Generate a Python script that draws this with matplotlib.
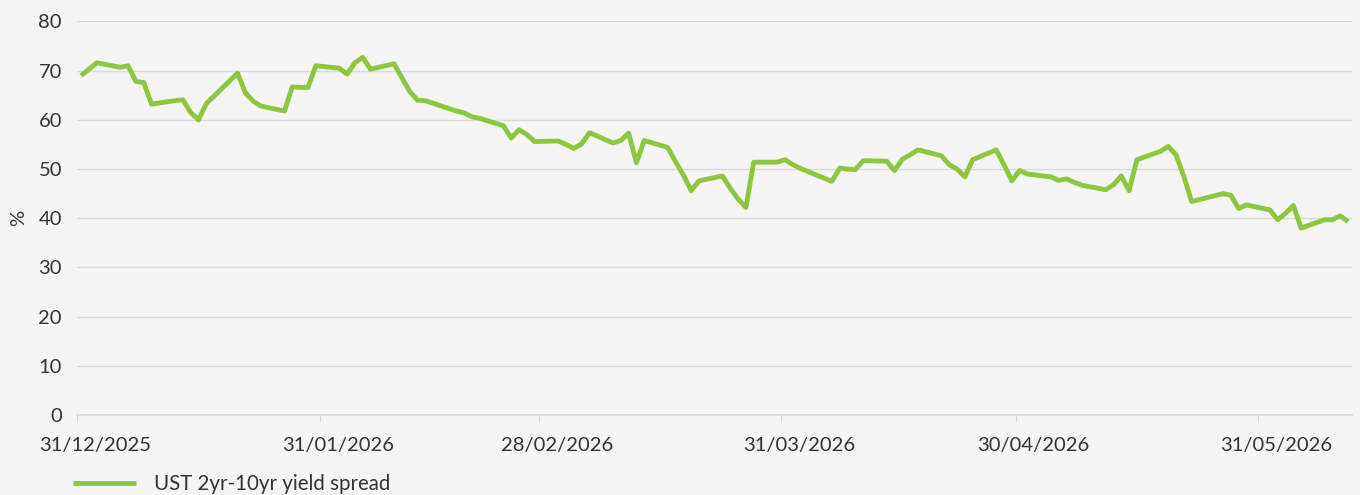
import matplotlib
matplotlib.use('Agg')
import matplotlib.pyplot as plt
import matplotlib.dates as mdates
import matplotlib.transforms as mtransforms
import pandas as pd

# UST 2yr-10yr spread (business days)
dates = [
    '2025-12-31', '2026-01-02', '2026-01-05', '2026-01-06', '2026-01-07', '2026-01-08',
    '2026-01-09', '2026-01-12', '2026-01-13', '2026-01-14', '2026-01-15', '2026-01-16',
    '2026-01-20', '2026-01-21', '2026-01-22', '2026-01-23', '2026-01-26', '2026-01-27',
    '2026-01-28', '2026-01-29', '2026-01-30', '2026-02-02', '2026-02-03', '2026-02-04',
    '2026-02-05', '2026-02-06', '2026-02-09', '2026-02-10', '2026-02-11', '2026-02-12',
    '2026-02-13', '2026-02-17', '2026-02-18', '2026-02-19', '2026-02-20', '2026-02-23',
    '2026-02-24', '2026-02-25', '2026-02-26', '2026-02-27', '2026-03-02', '2026-03-03',
    '2026-03-04', '2026-03-05', '2026-03-06', '2026-03-09', '2026-03-10', '2026-03-11',
    '2026-03-12', '2026-03-13', '2026-03-16', '2026-03-17', '2026-03-18', '2026-03-19',
    '2026-03-20', '2026-03-23', '2026-03-24', '2026-03-25', '2026-03-26', '2026-03-27',
    '2026-03-30', '2026-03-31', '2026-04-01', '2026-04-02', '2026-04-06', '2026-04-07',
    '2026-04-08', '2026-04-09', '2026-04-10', '2026-04-13', '2026-04-14', '2026-04-15',
    '2026-04-16', '2026-04-17', '2026-04-20', '2026-04-21', '2026-04-22', '2026-04-23',
    '2026-04-24', '2026-04-27', '2026-04-28', '2026-04-29', '2026-04-30', '2026-05-01',
    '2026-05-04', '2026-05-05', '2026-05-06', '2026-05-07', '2026-05-08', '2026-05-11',
    '2026-05-12', '2026-05-13', '2026-05-14', '2026-05-15', '2026-05-18', '2026-05-19',
    '2026-05-20', '2026-05-21', '2026-05-22', '2026-05-26', '2026-05-27', '2026-05-28',
    '2026-05-29', '2026-06-01', '2026-06-02', '2026-06-03', '2026-06-04', '2026-06-05',
    '2026-06-08', '2026-06-09', '2026-06-10', '2026-06-11',
]
spread = [
    69.0, 71.6, 70.7, 71.0, 67.8, 67.6,
    63.2, 63.9, 64.1, 61.5, 60.0, 63.3,
    69.5, 65.5, 63.8, 62.8, 61.8, 66.7,
    66.6, 66.6, 71.0, 70.5, 69.3, 71.6,
    72.7, 70.3, 71.4, 68.6, 65.8, 64.0,
    63.9, 61.8, 61.4, 60.6, 60.3, 58.8,
    56.3, 58.0, 57.0, 55.6, 55.7, 55.0,
    54.2, 55.1, 57.4, 55.3, 55.8, 57.3,
    51.3, 55.8, 54.4, 51.5, 48.8, 45.6,
    47.6, 48.6, 46.1, 43.9, 42.2, 51.4,
    51.4, 51.9, 50.9, 50.1, 47.5, 50.2,
    50.0, 49.9, 51.7, 51.6, 49.7, 52.0,
    52.9, 53.9, 52.7, 50.9, 50.0, 48.4,
    51.9, 53.9, 50.9, 47.6, 49.7, 49.0,
    48.4, 47.7, 48.0, 47.3, 46.7, 45.8,
    46.8, 48.6, 45.6, 51.9, 53.6, 54.6,
    52.9, 48.5, 43.4, 45.0, 44.7, 42.0,
    42.7, 41.7, 39.7, 41.0, 42.6, 38.0,
    39.7, 39.7, 40.5, 39.3,
]
tick_dates = ['2025-12-31', '2026-01-31', '2026-02-28', '2026-03-31', '2026-04-30', '2026-05-31']
x_end = '2026-06-12'
series_name = 'UST 2yr-10yr yield spread'

plt.rcParams['font.family'] = ['Lato', 'DejaVu Sans']
bg = '#f5f5f5'
grey = '#d9d9d9'
txt = '#333333'

fig = plt.figure(figsize=(13.6, 4.95), dpi=100, facecolor=bg)
ax = fig.add_axes([0.0568, 0.1616, 0.9373, 0.795])
ax.set_facecolor(bg)

# excel date axis puts the point in the middle of the day
xs = mdates.date2num(pd.to_datetime(dates)) + 0.5
ax.plot(xs, spread, color='#8dc63f', lw=3.5, label=series_name, solid_capstyle='butt')

ax.set_xlim(mdates.date2num(pd.to_datetime(tick_dates[0])), mdates.date2num(pd.to_datetime(x_end)))
ax.set_ylim(0, 80)
ax.set_yticks(range(0, 81, 10))
ax.grid(axis='y', color=grey, lw=1)
ax.set_axisbelow(True)

tk = pd.to_datetime(tick_dates)
ax.set_xticks(mdates.date2num(tk))
ax.set_xticklabels([d.strftime('%d/%m/%Y') for d in tk])

for s in ['left', 'top', 'right']:
    ax.spines[s].set_visible(False)
ax.spines['bottom'].set_color(grey)
ax.spines['bottom'].set_linewidth(1.2)

ax.tick_params(axis='x', length=5, color=grey, labelsize=14.5, labelcolor=txt, pad=11)
ax.tick_params(axis='y', length=0, labelsize=14.5, labelcolor=txt, pad=11)

off = mtransforms.ScaledTranslation(18 / 100, 0, fig.dpi_scale_trans)
for lab in ax.get_xticklabels():
    lab.set_transform(lab.get_transform() + off)

ax.set_ylabel('%', fontsize=14.5, color=txt, labelpad=8)

ax.legend(loc='lower left', bbox_to_anchor=(0.0535, 0.002), bbox_transform=fig.transFigure,
          frameon=False, fontsize=14.8, handlelength=3.1, handletextpad=0.85,
          borderpad=0, borderaxespad=0, labelcolor=txt)

fig.savefig('out.png', dpi=100, facecolor=bg)
